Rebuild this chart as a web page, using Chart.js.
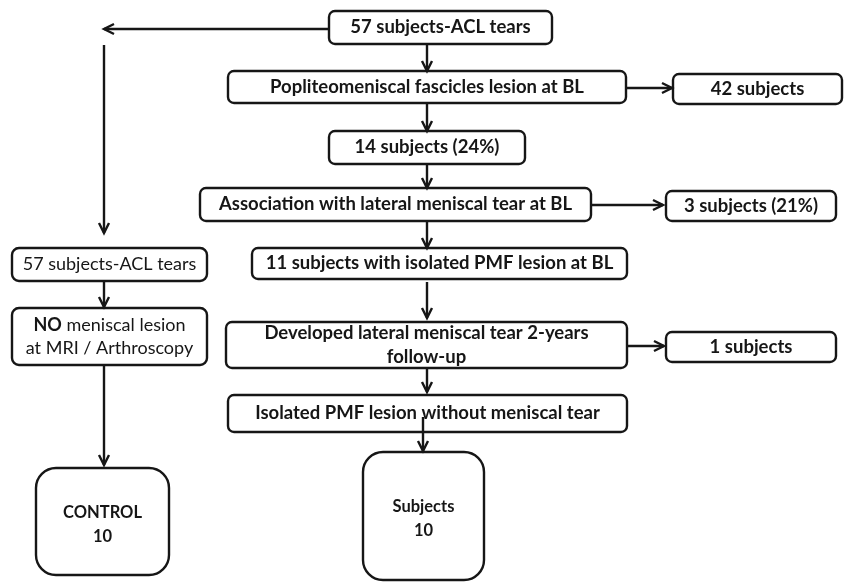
<!DOCTYPE html>
<html>
<head>
<meta charset="utf-8">
<script src="https://cdn.jsdelivr.net/npm/chart.js@4/dist/chart.umd.min.js"></script>
<style>
  html, body { margin: 0; padding: 0; background: #ffffff; }
  #wrap { width: 844px; height: 582px; position: relative; }
</style>
</head>
<body>
<div id="wrap"><canvas id="flow"></canvas></div>
<script>
// Flow chart content (the data)
const mainSteps = [
    '57 subjects-ACL tears',
    'Popliteomeniscal fascicles lesion at BL',
    '14 subjects (24%)',
    'Association with lateral meniscal tear at BL',
    '11 subjects with isolated PMF lesion at BL',
    ['Developed lateral meniscal tear 2-years', 'follow-up'],
    'Isolated PMF lesion without meniscal tear'
];
const excludedSteps = ['42 subjects', '3 subjects (21%)', '1 subjects'];
const controlSteps = ['57 subjects-ACL tears', [['NO', ' meniscal lesion'], 'at MRI / Arthroscopy']];
const groupNames = ['CONTROL', 'Subjects'];
const groupCounts = [10, 10];

// Layout in chart units: [x0, y0, x1, y1]
const mainBoxes = [
    [329, 11, 552, 44], [228, 71, 626, 103], [329, 131, 525, 164], [200, 188, 591, 221],
    [252, 248, 627, 279], [226, 322, 627, 368], [228, 395, 627, 432]
];
const excludedBoxes = [[673, 74, 842, 104], [666, 191, 836, 221], [666, 332, 836, 362]];
const controlBoxes = [[12, 248, 207, 281], [12, 308, 207, 365]];
const groupBoxes = [[36, 468, 169, 575], [363, 452, 484, 580]];

// arrows: [x0, y0, x1, y1]
const arrows = [
    [329, 29, 104, 29], [104, 45, 104, 233], [104, 281, 104, 307], [104, 365, 104, 465],
    [427, 44, 427, 71], [427, 103, 427, 131], [427, 164, 427, 188], [427, 221, 427, 248],
    [427, 282, 427, 318], [427, 368, 427, 392], [423, 417, 423, 451],
    [626, 88, 672, 88], [591, 205, 663, 205], [627, 346, 664, 346]
];

const INK = '#161616';
const FAMILY = 'Lato, "Open Sans", sans-serif';

function roundRect(ctx, x0, y0, x1, y1, r) {
    ctx.beginPath();
    ctx.moveTo(x0 + r, y0);
    ctx.lineTo(x1 - r, y0);
    ctx.arcTo(x1, y0, x1, y0 + r, r);
    ctx.lineTo(x1, y1 - r);
    ctx.arcTo(x1, y1, x1 - r, y1, r);
    ctx.lineTo(x0 + r, y1);
    ctx.arcTo(x0, y1, x0, y1 - r, r);
    ctx.lineTo(x0, y0 + r);
    ctx.arcTo(x0, y0, x0 + r, y0, r);
    ctx.closePath();
    ctx.stroke();
}

// one line may be a string or a list of [boldPart, regularPart]
function drawLine(ctx, line, cx, cy, weight, size) {
    if (Array.isArray(line)) {
        ctx.font = `bold ${size}px ${FAMILY}`;
        const w1 = ctx.measureText(line[0]).width;
        ctx.font = `normal ${size}px ${FAMILY}`;
        const w2 = ctx.measureText(line[1]).width;
        const x = cx - (w1 + w2) / 2;
        ctx.textAlign = 'left';
        ctx.font = `bold ${size}px ${FAMILY}`;
        ctx.fillText(line[0], x, cy);
        ctx.font = `normal ${size}px ${FAMILY}`;
        ctx.fillText(line[1], x + w1, cy);
        ctx.textAlign = 'center';
        return;
    }
    ctx.font = `${weight} ${size}px ${FAMILY}`;
    ctx.fillText(line, cx, cy);
}

const flowPlugin = {
    id: 'flow',
    afterDraw(chart) {
        const ctx = chart.ctx;
        const sx = v => chart.scales.x.getPixelForValue(v);
        const sy = v => chart.scales.y.getPixelForValue(v);
        ctx.save();
        ctx.strokeStyle = INK;
        ctx.fillStyle = INK;
        ctx.lineWidth = 2.4;
        ctx.textAlign = 'center';
        ctx.textBaseline = 'middle';

        function box(b, text, weight, size, radius, gap, dy) {
            const x0 = sx(b[0]), y0 = sy(b[1]), x1 = sx(b[2]), y1 = sy(b[3]);
            roundRect(ctx, x0, y0, x1, y1, radius);
            const lines = Array.isArray(text) ? text : [text];
            const cx = (x0 + x1) / 2, cy = (y0 + y1) / 2 + (dy || 0);
            lines.forEach((ln, i) => {
                drawLine(ctx, ln, cx, cy + (i - (lines.length - 1) / 2) * gap, weight, size);
            });
        }

        mainSteps.forEach((t, i) => box(mainBoxes[i], t, 'bold', 18.5, 6, 24));
        excludedSteps.forEach((t, i) => box(excludedBoxes[i], t, 'bold', 18.5, 6, 24));
        controlSteps.forEach((t, i) => box(controlBoxes[i], t, 'normal', 18, 7, 23));
        groupNames.forEach((n, i) => box(groupBoxes[i], [n, String(groupCounts[i])], 'bold', 16.5, 20, 24, 3));

        arrows.forEach(a => {
            const x0 = sx(a[0]), y0 = sy(a[1]), x1 = sx(a[2]), y1 = sy(a[3]);
            ctx.beginPath();
            ctx.moveTo(x0, y0);
            ctx.lineTo(x1, y1);
            ctx.stroke();
            const ang = Math.atan2(y1 - y0, x1 - x0);
            const len = 10, half = 5;
            const bx = x1 - len * Math.cos(ang), by = y1 - len * Math.sin(ang);
            const px = -Math.sin(ang) * half, py = Math.cos(ang) * half;
            ctx.beginPath();
            ctx.moveTo(bx + px, by + py);
            ctx.lineTo(x1, y1);
            ctx.lineTo(bx - px, by - py);
            ctx.stroke();
        });
        ctx.restore();
    }
};

new Chart(document.getElementById('flow').getContext('2d'), {
    type: 'scatter',
    data: { datasets: [{ data: [] }] },
    options: {
        responsive: true,
        maintainAspectRatio: false,
        animation: false,
        layout: { padding: 0 },
        plugins: { legend: { display: false }, tooltip: { enabled: false } },
        scales: {
            x: { type: 'linear', min: 0, max: 844, display: false },
            y: { type: 'linear', min: 0, max: 582, reverse: true, display: false }
        }
    },
    plugins: [flowPlugin]
});
</script>
</body>
</html>
